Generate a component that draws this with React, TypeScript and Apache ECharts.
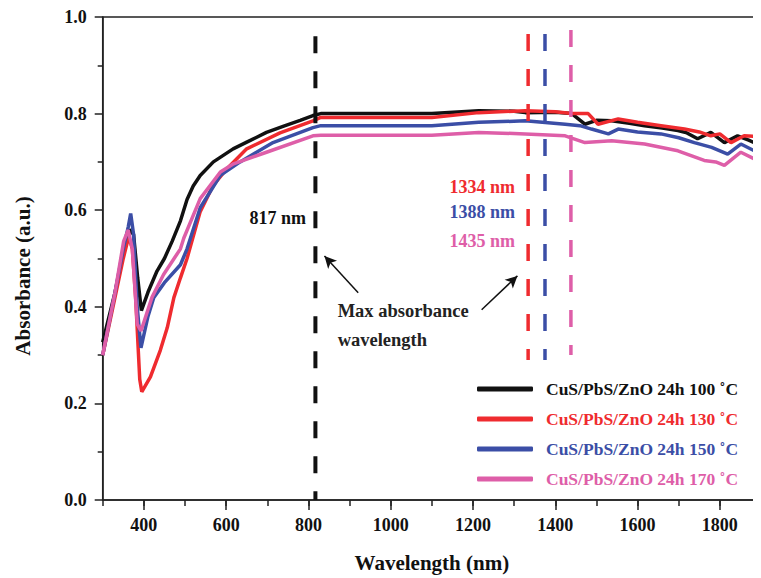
import React, { useEffect, useRef } from "react";
import * as echarts from "echarts";

const seriesNames = [
  "CuS/PbS/ZnO 24h 100 ˚C",
  "CuS/PbS/ZnO 24h 130 ˚C",
  "CuS/PbS/ZnO 24h 150 ˚C",
  "CuS/PbS/ZnO 24h 170 ˚C",
];
const seriesColors = ["#111111", "#ef2b2f", "#3b4ea6", "#de5ea8"];

const wl100 = [300, 330, 350, 365, 375, 385, 394, 410, 432, 450, 469, 489, 505, 520, 537, 569, 617, 660, 698, 740, 780, 811, 830, 1100, 1214, 1300, 1327, 1400, 1440, 1472, 1500, 1537, 1580, 1617, 1660, 1698, 1720, 1746, 1778, 1811, 1843, 1870, 1900];
const ab100 = [0.327, 0.43, 0.51, 0.56, 0.55, 0.46, 0.392, 0.43, 0.474, 0.5, 0.536, 0.578, 0.622, 0.65, 0.672, 0.7, 0.727, 0.745, 0.761, 0.774, 0.786, 0.796, 0.8, 0.8, 0.806, 0.805, 0.802, 0.803, 0.8, 0.778, 0.786, 0.785, 0.78, 0.775, 0.77, 0.765, 0.76, 0.748, 0.761, 0.74, 0.754, 0.745, 0.734];

const wl130 = [300, 330, 350, 363, 372, 380, 390, 395, 416, 440, 457, 473, 489, 505, 537, 569, 602, 650, 731, 811, 830, 1100, 1214, 1327, 1400, 1440, 1480, 1504, 1553, 1600, 1657, 1714, 1750, 1778, 1800, 1827, 1859, 1900];
const ab130 = [0.3, 0.42, 0.5, 0.545, 0.52, 0.42, 0.25, 0.224, 0.255, 0.31, 0.357, 0.419, 0.46, 0.5, 0.597, 0.652, 0.686, 0.727, 0.76, 0.785, 0.792, 0.792, 0.802, 0.806, 0.804, 0.8, 0.8, 0.778, 0.789, 0.782, 0.775, 0.768, 0.762, 0.754, 0.758, 0.74, 0.754, 0.752];

const wl150 = [300, 330, 350, 362, 368, 375, 384, 393, 410, 424, 450, 489, 505, 537, 586, 634, 714, 811, 830, 1100, 1214, 1327, 1424, 1460, 1488, 1529, 1553, 1600, 1657, 1700, 1738, 1780, 1819, 1851, 1891, 1900];
const ab150 = [0.3, 0.43, 0.52, 0.565, 0.593, 0.55, 0.398, 0.315, 0.38, 0.419, 0.45, 0.487, 0.52, 0.605, 0.672, 0.7, 0.74, 0.771, 0.775, 0.775, 0.782, 0.785, 0.778, 0.775, 0.768, 0.758, 0.768, 0.762, 0.758, 0.75, 0.74, 0.73, 0.716, 0.737, 0.72, 0.718];

const wl170 = [300, 330, 351, 362, 372, 384, 393, 420, 448, 489, 497, 537, 586, 618, 698, 811, 830, 1100, 1214, 1327, 1424, 1472, 1537, 1617, 1698, 1762, 1790, 1811, 1851, 1891, 1900];
const ab170 = [0.3, 0.43, 0.536, 0.559, 0.52, 0.364, 0.35, 0.42, 0.467, 0.52, 0.542, 0.624, 0.679, 0.696, 0.72, 0.754, 0.755, 0.755, 0.761, 0.758, 0.754, 0.74, 0.744, 0.737, 0.723, 0.703, 0.7, 0.693, 0.72, 0.703, 0.7];

const wavelengths = [wl100, wl130, wl150, wl170];
const absorbances = [ab100, ab130, ab150, ab170];

// vertical dashed "max absorbance" markers
const peakWl = [817, 1334, 1375, 1438];
const peakTop = [0.96, 0.965, 0.965, 0.973];
const peakBottom = [0, 0.29, 0.29, 0.3];
const peakColors = ["#111111", "#ef2b2f", "#3b4ea6", "#de5ea8"];
const peakWidths = [4, 3.5, 3.5, 3.5];

// text annotations [wavelength, absorbance]
const peakLabels = ["817 nm", "1334 nm", "1388 nm", "1435 nm"];
const peakLabelPos = [
  [794, 0.583],
  [1302, 0.649],
  [1302, 0.597],
  [1302, 0.536],
];
const noteLines = ["Max absorbance", "wavelength"];
const notePos = [
  [871, 0.392],
  [871, 0.332],
];
// arrows: [tail, head]
const arrows = [
  [[921, 0.429], [839, 0.505]],
  [[1221, 0.394], [1308, 0.464]],
];

const FONT = "Liberation Serif";

export default function App() {
  const ref = useRef<HTMLDivElement>(null);
  useEffect(() => {
    if (!ref.current) return;
    const chart = echarts.init(ref.current, undefined, { renderer: "svg" });

    const dataSeries = seriesNames.map((name, i) => ({
      name,
      type: "line",
      data: wavelengths[i].map((w, j) => [w, absorbances[i][j]]),
      showSymbol: false,
      symbol: "none",
      lineStyle: { color: seriesColors[i], width: 3.5 },
      itemStyle: { color: seriesColors[i] },
      z: 3 + i,
    }));

    const dashSeries = peakWl.map((w, i) => ({
      name: "peak" + i,
      type: "line",
      data: [
        [w, peakTop[i]],
        [w, peakBottom[i]],
      ],
      showSymbol: false,
      symbol: "none",
      silent: true,
      lineStyle: { color: peakColors[i], width: peakWidths[i], type: [17, 18] },
      z: 10,
    }));

    const arrowSeries = {
      name: "arrows",
      type: "line",
      data: [],
      silent: true,
      markLine: {
        silent: true,
        animation: false,
        symbol: ["none", "arrow"],
        symbolSize: [9, 12],
        label: { show: false },
        lineStyle: { color: "#111", width: 1.5, type: "solid" },
        data: arrows.map((a) => [{ coord: a[0] }, { coord: a[1] }]),
      },
    };

    const axisLabelStyle = {
      color: "#111",
      fontFamily: FONT,
      fontWeight: "bold",
      fontSize: 18,
    };

    const option: any = {
      animation: false,
      textStyle: { fontFamily: FONT },
      grid: {
        left: 102.7,
        top: 17,
        width: 661,
        height: 487,
        show: true,
        borderColor: "#222",
        borderWidth: 1.5,
        backgroundColor: "transparent",
      },
      legend: {
        orient: "vertical",
        left: 472,
        top: 375,
        itemWidth: 56,
        itemHeight: 5,
        itemGap: 12,
        icon: "roundRect",
        selectedMode: false,
        textStyle: {
          fontFamily: FONT,
          fontWeight: "bold",
          fontSize: 17.5,
          lineHeight: 18,
          padding: [0, 0, 0, 8],
        },
        data: seriesNames.map((n, i) => ({
          name: n,
          textStyle: { color: seriesColors[i] },
        })),
      },
      xAxis: [
        {
          type: "value",
          min: 300,
          max: 1900,
          interval: 100,
          axisLine: { lineStyle: { color: "#222", width: 1.5 } },
          axisTick: { length: 6, lineStyle: { color: "#222", width: 1.5 } },
          axisLabel: { show: false },
          splitLine: { show: false },
        },
        {
          type: "value",
          min: 300,
          max: 1900,
          splitNumber: 8,
          position: "bottom",
          axisLine: { show: false },
          axisTick: { length: 10, lineStyle: { color: "#222", width: 1.5 } },
          axisLabel: {
            ...axisLabelStyle,
            margin: 16,
            showMinLabel: false,
            showMaxLabel: false,
            formatter: (v: number) => (v % 200 === 0 ? String(v) : ""),
          },
          splitLine: { show: false },
          name: "Wavelength (nm)",
          nameLocation: "middle",
          nameGap: 52,
          nameTextStyle: {
            color: "#111",
            fontFamily: FONT,
            fontWeight: "bold",
            fontSize: 21,
          },
        },
      ],
      yAxis: {
        type: "value",
        min: 0,
        max: 1,
        interval: 0.2,
        axisLine: { show: true, lineStyle: { color: "#222", width: 1.5 } },
        axisTick: { show: true, length: 8, lineStyle: { color: "#222", width: 1.5 } },
        minorTick: { show: true, splitNumber: 2, length: 5, lineStyle: { color: "#222", width: 1.5 } },
        axisLabel: {
          ...axisLabelStyle,
          margin: 16,
          formatter: (v: number) => v.toFixed(1),
        },
        splitLine: { show: false },
      },
      series: [...dataSeries, ...dashSeries, arrowSeries],
    };

    chart.setOption(option);

    const toPx = (p: number[]) => chart.convertToPixel({ xAxisIndex: 0, yAxisIndex: 0 }, p) as number[];

    const textStyle = (text: string, fill: string, size: number, align: string) => ({
      text,
      fill,
      fontFamily: FONT,
      fontWeight: "bold",
      fontSize: size,
      align,
      verticalAlign: "middle",
    });

    const graphics: any[] = [];
    peakLabels.forEach((t, i) => {
      const [x, y] = toPx(peakLabelPos[i]);
      graphics.push({ type: "text", x, y, silent: true, style: textStyle(t, peakColors[i], 18, "right") });
    });
    noteLines.forEach((t, i) => {
      const [x, y] = toPx(notePos[i]);
      graphics.push({ type: "text", x, y, silent: true, style: textStyle(t, "#222", 18.5, "left") });
    });
    graphics.push({
      type: "text",
      x: 23,
      y: 276,
      rotation: Math.PI / 2,
      silent: true,
      style: textStyle("Absorbance (a.u.)", "#111", 21, "center"),
    });
    chart.setOption({ graphic: graphics });

    return () => chart.dispose();
  }, []);

  return <div ref={ref} style={{ width: 761, height: 578, marginLeft: -8, marginTop: -8 }} />;
}
